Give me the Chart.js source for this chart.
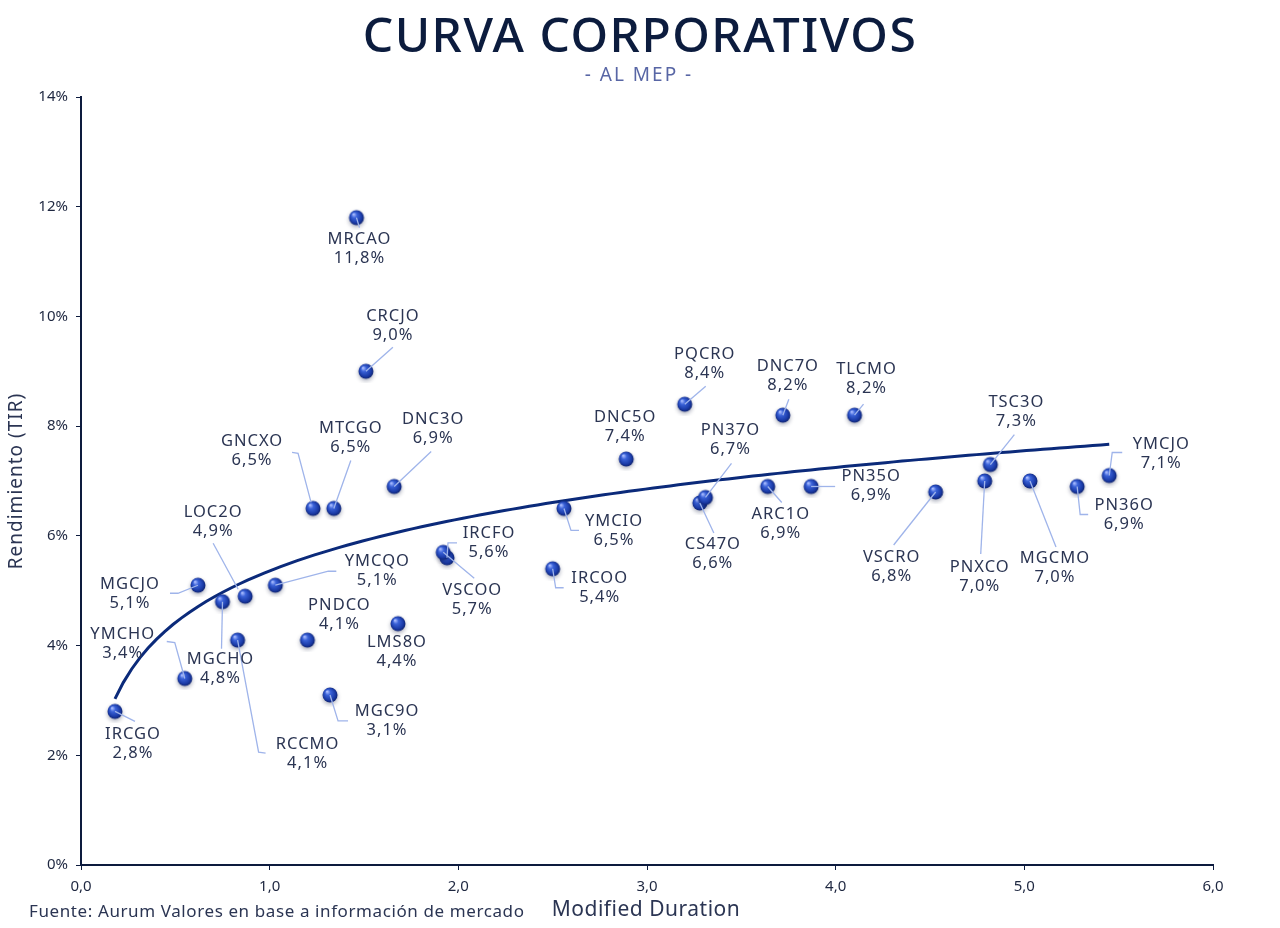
<!DOCTYPE html>
<html>
<head>
  <title>Curva Corporativos</title>
  <script src="https://cdn.jsdelivr.net/npm/chart.js"></script>
  <style>
    body { margin: 0; background: #fff; }
  </style>
</head>
<body>
  <canvas id="myChart" width="1280" height="928"></canvas>
  <script>
    // Datos
    var names = ['IRCGO', 'YMCHO', 'MGCJO', 'MGCHO', 'LOC2O', 'RCCMO', 'YMCQO', 'PNDCO', 'GNCXO', 'MTCGO', 'MGC9O',
      'LMS8O', 'DNC3O', 'MRCAO', 'CRCJO', 'IRCFO', 'VSCOO', 'IRCOO', 'YMCIO', 'DNC5O', 'PQCRO', 'CS47O', 'PN37O',
      'DNC7O', 'ARC1O', 'PN35O', 'TLCMO', 'VSCRO', 'TSC3O', 'PNXCO', 'MGCMO', 'PN36O', 'YMCJO'];
    var duration = [0.18, 0.55, 0.62, 0.75, 0.87, 0.83, 1.03, 1.20, 1.23, 1.34, 1.32,
      1.68, 1.66, 1.46, 1.51, 1.94, 1.92, 2.50, 2.56, 2.89, 3.20, 3.28, 3.31,
      3.72, 3.64, 3.87, 4.10, 4.53, 4.82, 4.79, 5.03, 5.28, 5.45];
    var tir = [2.8, 3.4, 5.1, 4.8, 4.9, 4.1, 5.1, 4.1, 6.5, 6.5, 3.1,
      4.4, 6.9, 11.8, 9.0, 5.6, 5.7, 5.4, 6.5, 7.4, 8.4, 6.6, 6.7,
      8.2, 6.9, 6.9, 8.2, 6.8, 7.3, 7.0, 7.0, 6.9, 7.1];

    // Posicion de cada etiqueta (px respecto del punto) y su linea guia
    var labelPos = {
      IRCGO: { dx: 18, dy: 23, lead: [[0, 0], [20, 10]] },
      YMCHO: { dx: -62, dy: -44, lead: [[0, 0], [-10, -36], [-18, -37]] },
      MGCJO: { dx: -68, dy: -1, lead: [[0, 0], [-20, 8], [-28, 8]] },
      MGCHO: { dx: -2, dy: 58, lead: [[0, 0], [-1, 47]] },
      LOC2O: { dx: -32, dy: -84, lead: [[-7, -7], [-32, -53]] },
      RCCMO: { dx: 70, dy: 104, lead: [[0, 0], [21, 112], [28, 113]] },
      YMCQO: { dx: 102, dy: -24, lead: [[0, 0], [53, -14], [61, -14]] },
      PNDCO: { dx: 32, dy: -35, lead: null },
      GNCXO: { dx: -61, dy: -67, lead: [[-2, -6], [-15, -55], [-21, -56]] },
      MTCGO: { dx: 17, dy: -80, lead: [[0, 0], [17, -48]] },
      MGC9O: { dx: 57, dy: 16, lead: [[0, 0], [8, 26], [18, 26]] },
      LMS8O: { dx: -1, dy: 19, lead: null },
      DNC3O: { dx: 39, dy: -67, lead: [[0, 0], [37, -35]] },
      MRCAO: { dx: 3, dy: 22, lead: [[0, 0], [3, 10]] },
      CRCJO: { dx: 27, dy: -55, lead: [[0, 0], [27, -24]] },
      IRCFO: { dx: 42, dy: -25, lead: [[0, 0], [1, -15], [10, -15]] },
      VSCOO: { dx: 29, dy: 38, lead: [[0, 0], [31, 26]] },
      IRCOO: { dx: 47, dy: 10, lead: [[0, 0], [3, 19], [11, 19]] },
      YMCIO: { dx: 50, dy: 13, lead: [[0, 0], [7, 22], [15, 22]] },
      DNC5O: { dx: -1, dy: -42, lead: null },
      PQCRO: { dx: 20, dy: -50, lead: [[0, 0], [21, -18]] },
      CS47O: { dx: 13, dy: 41, lead: [[0, 0], [14, 30]] },
      PN37O: { dx: 25, dy: -67, lead: [[0, 0], [26, -34]] },
      DNC7O: { dx: 5, dy: -49, lead: [[0, 0], [6, -16]] },
      ARC1O: { dx: 13, dy: 28, lead: [[0, 0], [14, 16]] },
      PN35O: { dx: 60, dy: -10, lead: [[0, 0], [24, 0]] },
      TLCMO: { dx: 12, dy: -46, lead: [[0, 0], [9, -11]] },
      VSCRO: { dx: -44, dy: 65, lead: [[0, 0], [-42, 53]] },
      TSC3O: { dx: 26, dy: -62, lead: [[0, 0], [24, -30]] },
      PNXCO: { dx: -5, dy: 86, lead: [[0, 0], [-4, 73]] },
      MGCMO: { dx: 25, dy: 77, lead: [[0, 0], [26, 66]] },
      PN36O: { dx: 47, dy: 19, lead: [[0, 0], [3, 28], [11, 28]] },
      YMCJO: { dx: 52, dy: -31, lead: [[0, 0], [3, -23], [13, -23]] }
    };

    var fmt = function(v) { return v.toFixed(1).replace('.', ','); };

    // Puntos del scatter
    var puntos = names.map(function(n, i) { return { x: duration[i], y: tir[i], name: n }; });

    // Linea de tendencia logaritmica (minimos cuadrados sobre los mismos datos)
    var lnX = duration.map(Math.log);
    var mL = lnX.reduce(function(a, b) { return a + b; }, 0) / lnX.length;
    var mY = tir.reduce(function(a, b) { return a + b; }, 0) / tir.length;
    var sxy = 0, sxx = 0;
    lnX.forEach(function(l, i) { sxy += (l - mL) * (tir[i] - mY); sxx += (l - mL) * (l - mL); });
    var b = sxy / sxx, a = mY - b * mL;
    var xMin = Math.min.apply(null, duration), xMax = Math.max.apply(null, duration);
    var tendencia = [];
    for (var k = 0; k <= 120; k++) {
      var xx = xMin + (xMax - xMin) * k / 120;
      tendencia.push({ x: xx, y: a + b * Math.log(xx) });
    }

    // Esfera azul para los puntos
    var esfera = document.createElement('canvas');
    esfera.width = 24; esfera.height = 24;
    var ec = esfera.getContext('2d');
    ec.shadowColor = 'rgba(10, 20, 60, 0.35)';
    ec.shadowBlur = 4;
    ec.shadowOffsetY = 2;
    var g = ec.createRadialGradient(9, 8.5, 0.5, 12, 12, 8);
    g.addColorStop(0, '#a9bcff');
    g.addColorStop(0.3, '#3a62d8');
    g.addColorStop(0.75, '#1a3aa6');
    g.addColorStop(1, '#0b1d63');
    ec.fillStyle = g;
    ec.beginPath();
    ec.arc(12, 12, 7.5, 0, Math.PI * 2);
    ec.fill();

    var fuente = '"Noto Sans", sans-serif';
    var navy = '#0d1b3e';

    // Titulos, textos y etiquetas
    var textos = {
      id: 'textos',
      afterDatasetsDraw: function(chart) {
        var c = chart.ctx;
        var meta = chart.getDatasetMeta(1);
        c.save();
        // lineas guia
        c.strokeStyle = '#9fb4ea';
        c.lineWidth = 1.3;
        meta.data.forEach(function(el, i) {
          var p = labelPos[names[i]];
          if (!p || !p.lead) return;
          c.beginPath();
          p.lead.forEach(function(o, j) {
            if (j === 0) c.moveTo(el.x + o[0], el.y + o[1]);
            else c.lineTo(el.x + o[0], el.y + o[1]);
          });
          c.stroke();
        });
        // etiquetas
        c.fillStyle = '#2b3553';
        c.textAlign = 'center';
        c.textBaseline = 'middle';
        c.font = '16.5px ' + fuente;
        c.letterSpacing = '1px';
        meta.data.forEach(function(el, i) {
          var p = labelPos[names[i]];
          c.fillText(names[i], el.x + p.dx, el.y + p.dy);
          c.fillText(fmt(tir[i]) + '%', el.x + p.dx, el.y + p.dy + 19);
        });

        // titulo
        c.fillStyle = '#0c1c3e';
        c.font = '500 48px ' + fuente;
        c.letterSpacing = '1.5px';
        c.fillText('CURVA CORPORATIVOS', 640, 38);
        c.fillStyle = '#5866a5';
        c.font = '19px ' + fuente;
        c.letterSpacing = '2px';
        c.fillText('- AL MEP -', 639, 76);

        // ejes
        c.fillStyle = '#2b3553';
        c.letterSpacing = '0.5px';
        c.font = '21px ' + fuente;
        c.fillText('Modified Duration', 646, 910);
        c.textAlign = 'left';
        c.font = '17px ' + fuente;
        c.letterSpacing = '0.6px';
        c.fillText('Fuente: Aurum Valores en base a información de mercado', 29, 912);
        c.translate(17, 481);
        c.rotate(-Math.PI / 2);
        c.textAlign = 'center';
        c.font = '19px ' + fuente;
        c.letterSpacing = '1px';
        c.fillText('Rendimiento (TIR)', 0, 0);
        c.restore();
      }
    };

    var ctx = document.getElementById('myChart').getContext('2d');
    var myChart = new Chart(ctx, {
      type: 'scatter',
      data: {
        datasets: [
          {
            type: 'line',
            label: 'Tendencia',
            data: tendencia,
            borderColor: '#0b2a7a',
            borderWidth: 3,
            pointRadius: 0,
            fill: false,
            tension: 0,
            order: 2
          },
          {
            label: 'Corporativos',
            data: puntos,
            pointStyle: esfera,
            pointRadius: 8,
            order: 1
          }
        ]
      },
      options: {
        responsive: false,
        animation: false,
        layout: { padding: { top: 97, right: 67, bottom: 0, left: 0 } },
        plugins: {
          legend: { display: false },
          tooltip: { enabled: false }
        },
        scales: {
          x: {
            type: 'linear',
            min: 0,
            max: 6,
            afterFit: function(s) { s.height = 63; },
            border: { color: navy, width: 2 },
            grid: { drawOnChartArea: false, tickLength: 5, color: navy },
            ticks: {
              stepSize: 1,
              padding: 8,
              color: '#1e2740',
              font: { family: fuente, size: 15 },
              callback: function(v) { return fmt(v); }
            }
          },
          y: {
            min: 0,
            max: 14,
            afterFit: function(s) { s.width = 81; },
            border: { color: navy, width: 2 },
            grid: { drawOnChartArea: false, tickLength: 5, color: navy },
            ticks: {
              stepSize: 2,
              padding: 8,
              color: '#1e2740',
              font: { family: fuente, size: 15 },
              callback: function(v) { return v + '%'; }
            }
          }
        }
      },
      plugins: [textos]
    });
  </script>
</body>
</html>
